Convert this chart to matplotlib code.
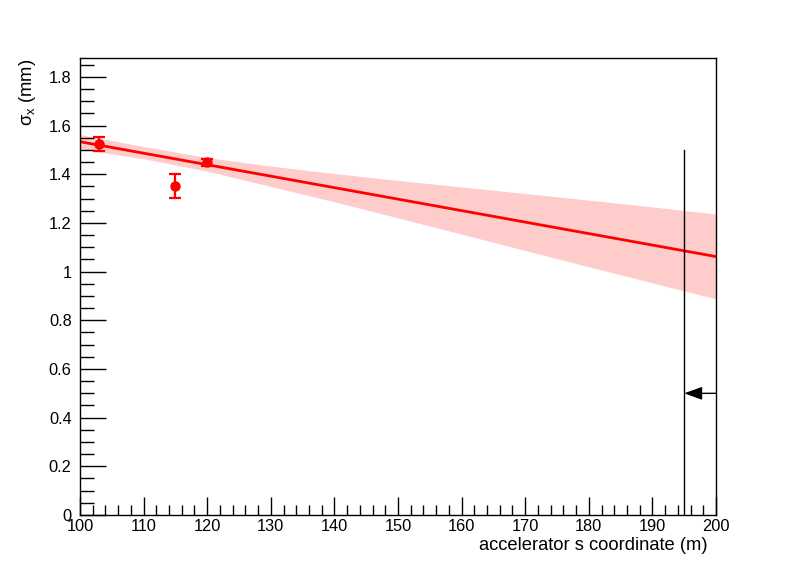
import matplotlib
matplotlib.use("Agg")
import matplotlib.pyplot as plt
import numpy as np
from matplotlib.ticker import MultipleLocator, FixedLocator

plt.rcParams['font.family'] = ['Liberation Sans', 'DejaVu Sans']

# measured points
meas_s = [103.0, 115.0, 120.0]
meas_sigma = [1.525, 1.352, 1.449]
meas_err = [0.030, 0.050, 0.015]

# fitted propagation line
fit_s = [100.0, 200.0]
fit_sigma = [1.534, 1.062]

# confidence band
band_s = [100, 110, 120, 130, 140, 150, 160, 170, 180, 190, 200]
band_hi = [1.564, 1.514, 1.469, 1.434, 1.403, 1.375, 1.348, 1.321, 1.294, 1.266, 1.237]
band_lo = [1.504, 1.464, 1.413, 1.350, 1.287, 1.221, 1.154, 1.087, 1.020, 0.954, 0.888]

# marker for aperture
cut_s = 195.0
cut_top = 1.5
arrow_y = 0.5
arrow_from = 200.0

W, H = 796, 572
fig = plt.figure(figsize=(W/100, H/100), dpi=100)
ax = fig.add_axes([80/W, 1-515/H, 636/W, 457/H])

ax.fill_between(band_s, band_lo, band_hi, color='#ffcccc', lw=0, zorder=1)
ax.plot(fit_s, fit_sigma, color='#ff0000', lw=2.0, zorder=2)
ax.errorbar(meas_s, meas_sigma, yerr=meas_err, fmt='o', color='#ff0000',
            ms=6.5, capsize=4, elinewidth=1.6, capthick=1.6, zorder=3)

ax.plot([cut_s, cut_s], [0, cut_top], color='black', lw=1, zorder=4)
ax.annotate('', xy=(cut_s, arrow_y), xytext=(arrow_from, arrow_y),
            arrowprops=dict(arrowstyle='-|>,head_length=1.1,head_width=0.4',
                            color='black', lw=1, shrinkA=0, shrinkB=0), zorder=5)

ax.set_xlim(100, 200)
ax.set_ylim(0, 1.878)

ax.xaxis.set_major_locator(MultipleLocator(10))
ax.xaxis.set_minor_locator(MultipleLocator(2))
ax.yaxis.set_major_locator(FixedLocator([0, 0.2, 0.4, 0.6, 0.8, 1.0, 1.2, 1.4, 1.6, 1.8]))
ax.yaxis.set_minor_locator(MultipleLocator(0.05))
ax.set_yticklabels(['0', '0.2', '0.4', '0.6', '0.8', '1', '1.2', '1.4', '1.6', '1.8'])

ax.tick_params(axis='x', which='major', direction='in', length=13, width=1, labelsize=11.8, pad=3)
ax.tick_params(axis='x', which='minor', direction='in', length=7, width=1)
ax.tick_params(axis='y', which='major', direction='in', length=19, width=1, labelsize=11.8, pad=6)
ax.tick_params(axis='y', which='minor', direction='in', length=10, width=1)
for sp in ax.spines.values():
    sp.set_linewidth(1)

fig.text(708/W, 1-546/H, 'accelerator s coordinate (m)', fontsize=13.2,
         ha='right', va='center')
fig.text(28/W, 1-59/H, r'$\mathregular{\sigma_{x}}$ (mm)', fontsize=13.2,
         rotation=90, ha='center', va='top')

fig.savefig('out.png', dpi=100)
